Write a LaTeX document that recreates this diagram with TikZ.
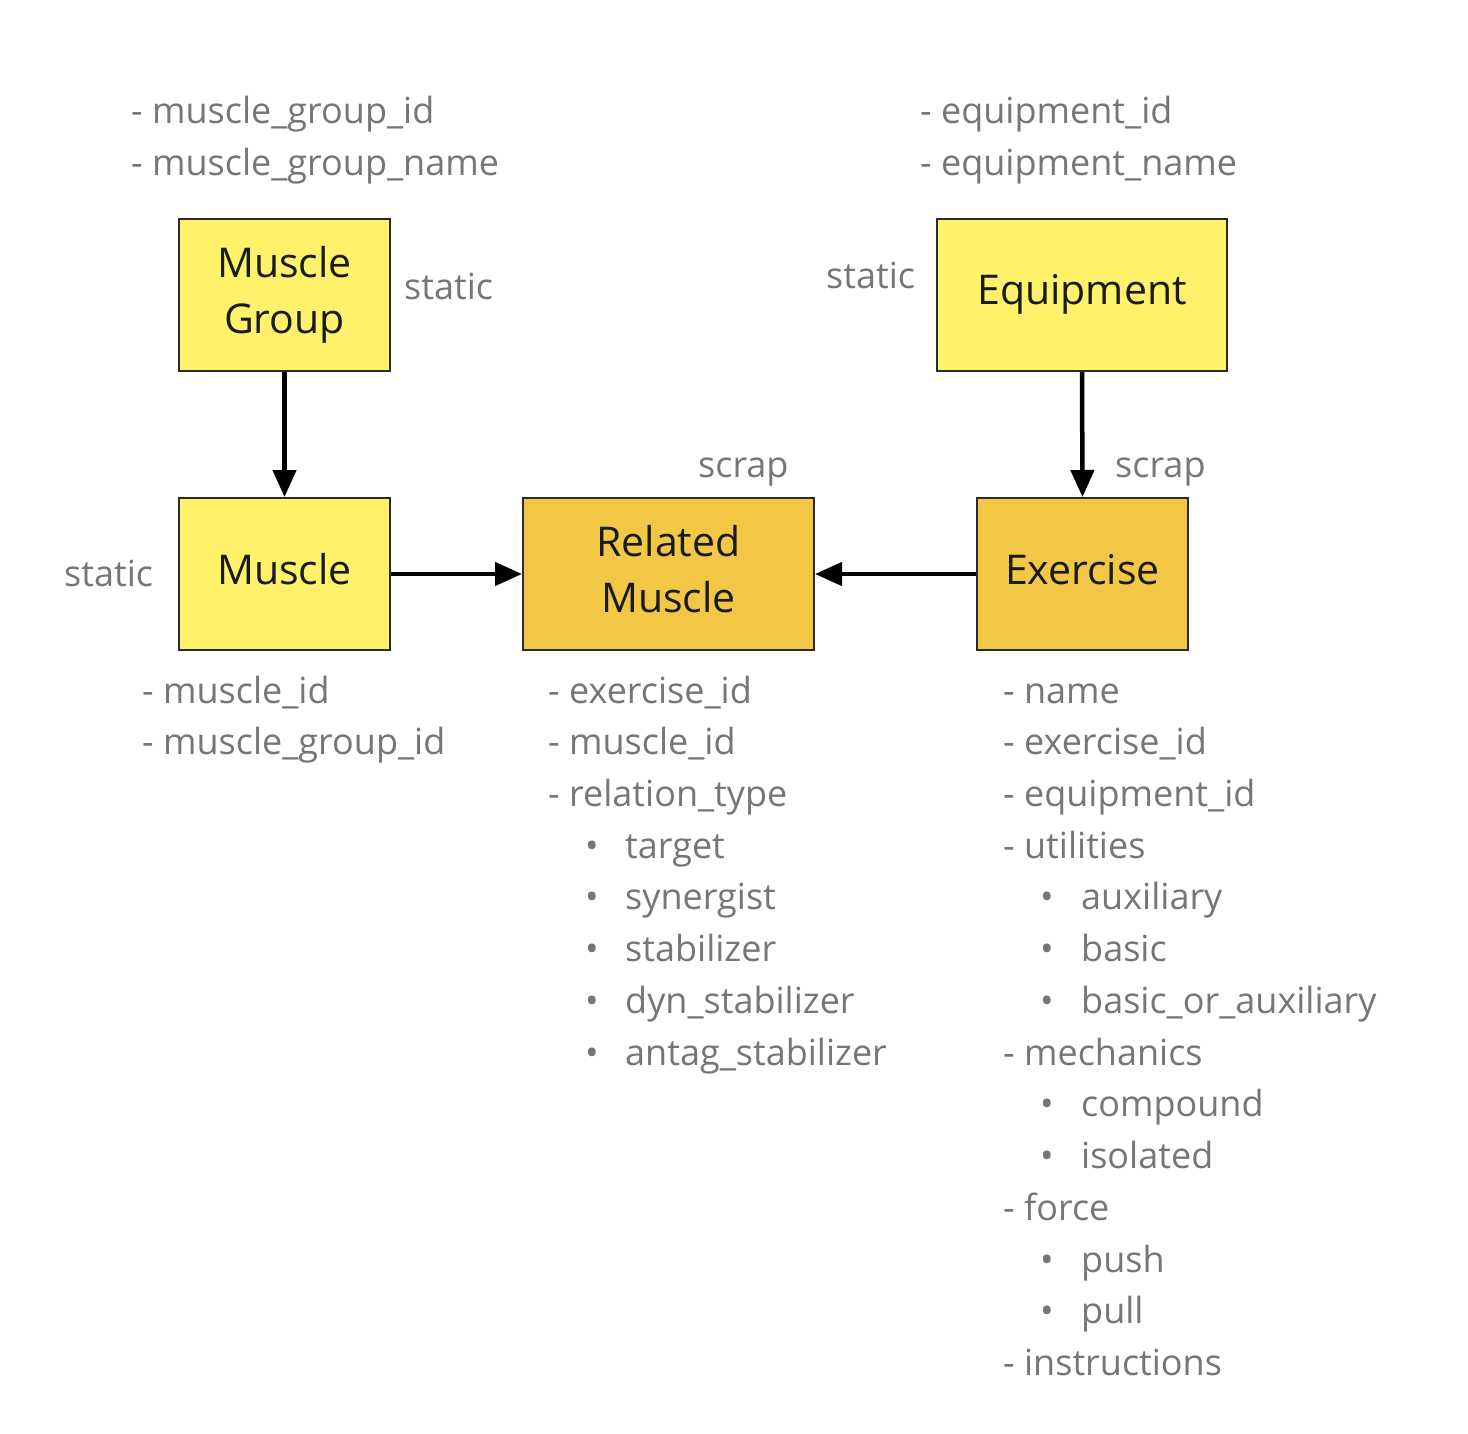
\documentclass[tikz,border=0pt]{standalone}
\usepackage{fontspec}
\setmainfont{Open Sans}
\usetikzlibrary{arrows.meta}
\definecolor{lightbox}{HTML}{FDF26A}
\definecolor{darkbox}{HTML}{F2C746}
\definecolor{boxline}{HTML}{2B2B2B}
\definecolor{boxtext}{HTML}{1A1A1A}
\definecolor{attrgray}{HTML}{767676}
\newcommand{\bxstrut}{\rule[-12pt]{0pt}{44pt}}
\begin{document}
\begin{tikzpicture}[x=1pt,y=-1pt,
  entity/.style={draw=boxline, line width=2pt, inner sep=0pt, align=center,
    text=boxtext, font=\fontsize{41}{56}\selectfont},
  lightent/.style={entity, fill=lightbox},
  darkent/.style={entity, fill=darkbox},
  attr/.style={anchor=base west, inner sep=0pt, text=attrgray, font=\fontsize{36}{52}\selectfont},
  bul/.style={anchor=base, inner sep=0pt, text=attrgray, font=\fontsize{36}{52}\selectfont},
  conn/.style={line width=4.5pt, -{Triangle[length=27pt,width=23pt]}}
]
\useasboundingbox (0,0) rectangle (1468,1434);
% entity boxes
\node[lightent, minimum width=211pt, minimum height=152pt] (mg) at (284.5,295) {\bxstrut Muscle\\\bxstrut Group};
\node[lightent, minimum width=290pt, minimum height=152pt] (eq) at (1082,295) {\bxstrut Equipment};
\node[lightent, minimum width=211pt, minimum height=152pt] (mu) at (284.5,574) {\bxstrut Muscle};
\node[darkent, minimum width=291pt, minimum height=152pt] (rm) at (668.5,574) {\bxstrut Related\\\bxstrut Muscle};
\node[darkent, minimum width=211pt, minimum height=152pt] (ex) at (1082.5,574) {\bxstrut Exercise};
% connectors
\draw[conn] (mg.south) -- (mu.north);
\draw[conn] (eq.south) -- (ex.north);
\draw[conn] (mu.east) -- (rm.west);
\draw[conn] (ex.west) -- (rm.east);
% side labels
\node[attr] (l1) at (404,300) {static};
\node[attr] (l2) at (826,289) {static};
\node[attr] (l3) at (698,477) {scrap};
\node[attr] (l4) at (1115,477) {scrap};
\node[attr] (l5) at (64,586) {static};
% muscle group attributes
\node[attr] (a1) at (131,124) {- muscle\_group\_id};
\node[attr] (a2) at (131,176) {- muscle\_group\_name};
% equipment attributes
\node[attr] (b1) at (920,124) {- equipment\_id};
\node[attr] (b2) at (920,176) {- equipment\_name};
% muscle attributes
\node[attr] (c1) at (142,703) {- muscle\_id};
\node[attr] (c2) at (142,754) {- muscle\_group\_id};
% related muscle attributes
\node[attr] (d1) at (548,703) {- exercise\_id};
\node[attr] (d2) at (548,754) {- muscle\_id};
\node[attr] (d3) at (548,806) {- relation\_type};
\foreach \t/\y [count=\i] in {target/858, synergist/909, stabilizer/961, dyn\_stabilizer/1013, antag\_stabilizer/1065}{
  \node[bul] (db\i) at (592,\y) {•};
  \node[attr] (dt\i) at (625,\y) {\t};
}
% exercise attributes
\node[attr] (e1) at (1003,703) {- name};
\node[attr] (e2) at (1003,754) {- exercise\_id};
\node[attr] (e3) at (1003,806) {- equipment\_id};
\node[attr] (e4) at (1003,858) {- utilities};
\node[attr] (e5) at (1003,1065) {- mechanics};
\node[attr] (e6) at (1003,1220) {- force};
\node[attr] (e7) at (1003,1375) {- instructions};
\foreach \t/\y [count=\i] in {auxiliary/909, basic/961, basic\_or\_auxiliary/1013, compound/1116, isolated/1168, push/1272, pull/1323}{
  \node[bul] (eb\i) at (1047,\y) {•};
  \node[attr] (et\i) at (1081,\y) {\t};
}
\end{tikzpicture}
\end{document}
